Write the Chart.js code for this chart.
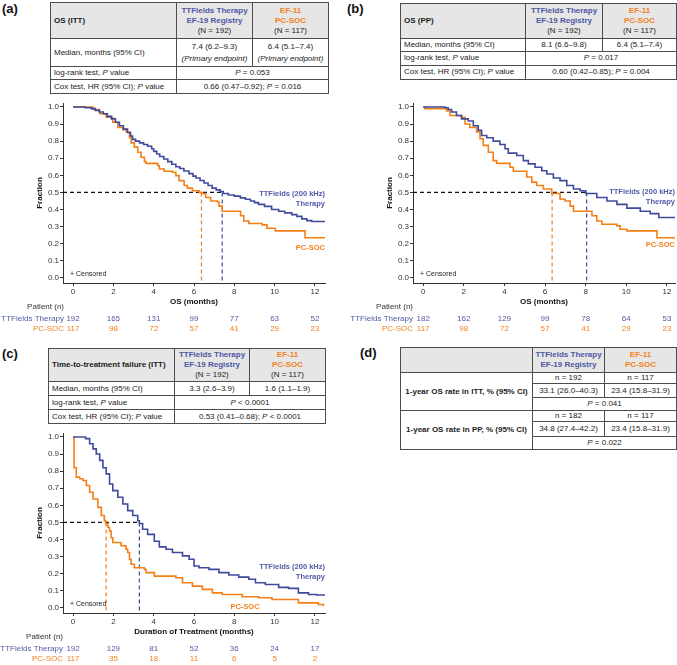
<!DOCTYPE html>
<html>
<head>
<meta charset="utf-8">
<script src="https://cdn.jsdelivr.net/npm/chart.js"></script>
<style>
body{margin:0;background:#fff;}
#root{position:relative;width:677px;height:665px;overflow:hidden;font-family:'Liberation Sans',Arial,sans-serif;color:#222;background:#fff;}
.pl{position:absolute;font-size:13px;font-weight:bold;color:#111;line-height:15px;}
table.t{position:absolute;border-collapse:collapse;table-layout:fixed;font-size:8px;line-height:10px;}
table.t td{border:1px solid #4d4d4d;padding:0 2px;text-align:center;vertical-align:middle;white-space:nowrap;overflow:hidden;}
table.t td.l{text-align:left;padding-left:3px;}
table.t tr.hd td{background:#e6e6e6;}
.bl{color:#4f56a2;font-weight:bold;}
.or{color:#f2811d;font-weight:bold;}
canvas{position:absolute;}
</style>
</head>
<body>
<div id="root">
  <div class="pl" style="left:2px;top:1px">(a)</div>
  <div class="pl" style="left:347px;top:1px">(b)</div>
  <div class="pl" style="left:2px;top:346px">(c)</div>
  <div class="pl" style="left:360px;top:345px">(d)</div>

  <table class="t" style="left:50px;top:2px;width:278px">
    <colgroup><col style="width:126px"><col style="width:76px"><col style="width:76px"></colgroup>
    <tr class="hd" style="height:36px"><td class="l"><b>OS (ITT)</b></td><td><span class="bl">TTFields Therapy<br>EF-19 Registry</span><br>(N = 192)</td><td><span class="or">EF-11<br>PC-SOC</span><br>(N = 117)</td></tr>
    <tr style="height:28px;line-height:11.5px"><td class="l">Median, months (95% CI)</td><td>7.4 (6.2–9.3)<br><i>(Primary endpoint)</i></td><td>6.4 (5.1–7.4)<br><i>(Primary endpoint)</i></td></tr>
    <tr style="height:13px"><td class="l">log-rank test, <i>P</i> value</td><td colspan="2"><i>P</i> = 0.053</td></tr>
    <tr style="height:14px"><td class="l">Cox test, HR (95% CI); <i>P</i> value</td><td colspan="2">0.66 (0.47–0.92); <i>P</i> = 0.016</td></tr>
  </table>

  <table class="t" style="left:400px;top:3px;width:276px">
    <colgroup><col style="width:125px"><col style="width:77px"><col style="width:74px"></colgroup>
    <tr class="hd" style="height:35px"><td class="l"><b>OS (PP)</b></td><td><span class="bl">TTFields Therapy<br>EF-19 Registry</span><br>(N = 192)</td><td><span class="or">EF-11<br>PC-SOC</span><br>(N = 117)</td></tr>
    <tr style="height:13px"><td class="l">Median, months (95% CI)</td><td>8.1 (6.6–9.8)</td><td>6.4 (5.1–7.4)</td></tr>
    <tr style="height:13.5px"><td class="l">log-rank test, <i>P</i> value</td><td colspan="2"><i>P</i> = 0.017</td></tr>
    <tr style="height:14px"><td class="l">Cox test, HR (95% CI); <i>P</i> value</td><td colspan="2">0.60 (0.42–0.85); <i>P</i> = 0.004</td></tr>
  </table>

  <table class="t" style="left:48px;top:348px;width:277px">
    <colgroup><col style="width:126px"><col style="width:75px"><col style="width:76px"></colgroup>
    <tr class="hd" style="height:33px"><td class="l"><b>Time-to-treatment failure (ITT)</b></td><td><span class="bl">TTFields Therapy<br>EF-19 Registry</span><br>(N = 192)</td><td><span class="or">EF-11<br>PC-SOC</span><br>(N = 117)</td></tr>
    <tr style="height:14px"><td class="l">Median, months (95% CI)</td><td>3.3 (2.6–3.9)</td><td>1.6 (1.1–1.9)</td></tr>
    <tr style="height:14px"><td class="l">log-rank test, <i>P</i> value</td><td colspan="2"><i>P</i> &lt; 0.0001</td></tr>
    <tr style="height:14px"><td class="l">Cox test, HR (95% CI); <i>P</i> value</td><td colspan="2">0.53 (0.41–0.68); <i>P</i> &lt; 0.0001</td></tr>
  </table>

  <table class="t" style="left:400px;top:347px;width:276px">
    <colgroup><col style="width:132px"><col style="width:72px"><col style="width:72px"></colgroup>
    <tr class="hd" style="height:25px"><td></td><td><span class="bl">TTFields Therapy<br>EF-19 Registry</span></td><td><span class="or">EF-11<br>PC-SOC</span></td></tr>
    <tr style="height:11px"><td rowspan="3"><b>1-year OS rate in ITT, % (95% CI)</b></td><td>n = 192</td><td>n = 117</td></tr>
    <tr style="height:14px"><td>33.1 (26.0–40.3)</td><td>23.4 (15.8–31.9)</td></tr>
    <tr style="height:13px"><td colspan="2"><i>P</i> = 0.041</td></tr>
    <tr style="height:10px"><td rowspan="3"><b>1-year OS rate in PP, % (95% CI)</b></td><td>n = 182</td><td>n = 117</td></tr>
    <tr style="height:15px"><td>34.8 (27.4–42.2)</td><td>23.4 (15.8–31.9)</td></tr>
    <tr style="height:13px"><td colspan="2"><i>P</i> = 0.022</td></tr>
  </table>

  <canvas id="ca" width="335" height="245" style="left:0px;top:95px"></canvas>
  <canvas id="cb" width="327" height="245" style="left:350px;top:95px"></canvas>
  <canvas id="cc" width="335" height="245" style="left:0px;top:425px"></canvas>
</div>
<script>
// ---------- data ----------
const xTicks = [0, 2, 4, 6, 8, 10, 12];
const yTicks = [0, 0.1, 0.2, 0.3, 0.4, 0.5, 0.6, 0.7, 0.8, 0.9, 1.0];
const riskTimes = [0, 2, 4, 6, 8, 10, 12];

// (a) OS (ITT)
const aTtfT = [0, 0.6, 0.9, 1.1, 1.3, 1.5, 1.7, 1.9, 2.1, 2.3, 2.5, 2.7, 2.85, 2.95, 3.1, 3.3, 3.5, 3.7, 3.9, 4.0, 4.15, 4.3, 4.5, 4.7, 4.9, 5.1, 5.3, 5.5, 5.75, 5.95, 6.1, 6.3, 6.5, 6.7, 6.9, 7.1, 7.3, 7.45, 7.7, 8.0, 8.3, 8.55, 8.8, 9.0, 9.2, 9.5, 9.85, 10.2, 10.5, 10.85, 11.1, 11.35, 11.6, 11.84, 12.5];
const aTtfS = [1, 0.995, 0.99, 0.98, 0.97, 0.96, 0.945, 0.93, 0.91, 0.89, 0.87, 0.85, 0.83, 0.81, 0.80, 0.79, 0.78, 0.77, 0.755, 0.74, 0.725, 0.71, 0.695, 0.68, 0.665, 0.65, 0.64, 0.625, 0.61, 0.595, 0.584, 0.57, 0.555, 0.54, 0.525, 0.515, 0.505, 0.494, 0.485, 0.478, 0.468, 0.46, 0.45, 0.44, 0.43, 0.418, 0.40, 0.39, 0.38, 0.37, 0.36, 0.345, 0.335, 0.33, 0.33];
const aPcT = [0, 0.99, 1.32, 1.64, 1.97, 2.22, 2.47, 2.63, 2.80, 2.88, 3.04, 3.21, 3.37, 3.54, 3.62, 4.19, 4.28, 4.52, 4.93, 5.10, 5.26, 5.51, 5.67, 5.92, 6.25, 6.37, 6.58, 6.83, 7.15, 7.24, 7.40, 8.31, 8.47, 8.72, 9.38, 9.62, 10.03, 11.51, 12.5];
const aPcS = [1, 0.985, 0.96, 0.94, 0.91, 0.88, 0.867, 0.853, 0.82, 0.79, 0.765, 0.735, 0.706, 0.68, 0.67, 0.657, 0.637, 0.624, 0.618, 0.598, 0.569, 0.54, 0.525, 0.51, 0.50, 0.494, 0.47, 0.45, 0.445, 0.42, 0.39, 0.363, 0.333, 0.318, 0.31, 0.29, 0.275, 0.235, 0.235];
const aMedians = [7.4, 6.37];
const aRiskTtf = [192, 165, 131, 99, 77, 63, 52];
const aRiskPc = [117, 98, 72, 57, 41, 29, 23];

// (b) OS (PP)
const bTtfT = [0, 1.07, 1.23, 1.40, 1.64, 1.89, 2.22, 2.47, 2.71, 2.88, 3.13, 3.45, 3.78, 4.03, 4.19, 4.61, 4.93, 5.18, 5.51, 5.84, 6.09, 6.41, 6.74, 7.07, 7.40, 7.73, 8.01, 8.55, 9.05, 9.54, 10.03, 10.69, 11.18, 11.6, 12.5];
const bTtfS = [1, 0.995, 0.985, 0.97, 0.95, 0.93, 0.918, 0.89, 0.863, 0.833, 0.82, 0.80, 0.78, 0.755, 0.73, 0.716, 0.686, 0.667, 0.647, 0.627, 0.608, 0.584, 0.569, 0.54, 0.52, 0.51, 0.494, 0.47, 0.45, 0.43, 0.408, 0.39, 0.376, 0.353, 0.353];
const bPcT = [0, 0.08, 1.15, 1.32, 1.89, 2.06, 2.30, 2.63, 2.80, 2.96, 3.21, 3.45, 3.62, 4.28, 4.44, 5.10, 5.35, 5.59, 5.92, 6.33, 6.74, 6.99, 7.24, 7.40, 8.31, 8.55, 8.80, 9.54, 9.70, 10.03, 11.51, 12.5];
const bPcS = [1, 0.99, 0.976, 0.95, 0.94, 0.90, 0.88, 0.853, 0.814, 0.775, 0.735, 0.686, 0.67, 0.647, 0.624, 0.59, 0.56, 0.54, 0.52, 0.494, 0.46, 0.45, 0.42, 0.39, 0.363, 0.333, 0.314, 0.304, 0.284, 0.275, 0.235, 0.235];
const bMedians = [8.05, 6.35];
const bRiskTtf = [182, 162, 129, 99, 78, 64, 53];
const bRiskPc = [117, 98, 72, 57, 41, 29, 23];

// (c) Time-to-treatment failure (ITT)
const cTtfT = [0, 0.62, 0.82, 0.99, 1.15, 1.32, 1.48, 1.64, 1.81, 1.97, 2.22, 2.47, 2.71, 2.96, 3.21, 3.29, 3.45, 3.70, 4.03, 4.28, 4.61, 4.93, 5.43, 5.76, 6.00, 6.25, 6.74, 7.24, 7.73, 8.22, 8.72, 9.05, 9.54, 10.2, 10.69, 11.18, 11.68, 12.09, 12.5];
const cTtfS = [1, 0.99, 0.96, 0.93, 0.90, 0.863, 0.82, 0.784, 0.725, 0.686, 0.647, 0.608, 0.569, 0.54, 0.51, 0.494, 0.46, 0.43, 0.39, 0.357, 0.343, 0.324, 0.304, 0.284, 0.245, 0.235, 0.225, 0.206, 0.192, 0.18, 0.167, 0.147, 0.137, 0.12, 0.114, 0.088, 0.078, 0.075, 0.075];
const cPcT = [0, 0.05, 0.16, 0.33, 0.49, 0.66, 0.82, 0.99, 1.23, 1.40, 1.55, 1.62, 1.73, 1.81, 1.89, 1.97, 2.38, 2.63, 2.71, 2.80, 2.88, 3.04, 3.54, 3.62, 4.03, 5.10, 5.43, 5.92, 6.41, 6.91, 7.40, 8.39, 9.21, 9.87, 11.18, 12.17, 12.42];
const cPcS = [1, 0.82, 0.765, 0.755, 0.745, 0.716, 0.676, 0.637, 0.588, 0.54, 0.51, 0.494, 0.47, 0.45, 0.41, 0.382, 0.363, 0.343, 0.324, 0.284, 0.255, 0.235, 0.225, 0.206, 0.186, 0.176, 0.147, 0.127, 0.108, 0.088, 0.078, 0.065, 0.059, 0.049, 0.029, 0.02, 0.01];
const cMedians = [3.29, 1.64];
const cRiskTtf = [192, 129, 81, 52, 36, 24, 17];
const cRiskPc = [117, 35, 18, 11, 6, 5, 2];

// ---------- drawing ----------
const FONT = "'Liberation Sans', Arial, sans-serif";
Chart.defaults.font.family = FONT;
const BLUE = '#3f4a9c', ORANGE = '#f57f17';
const BLUE_T = '#5259a5', ORANGE_T = '#f2811d';
const X_MIN = -0.5, Y_MIN = -0.03, Y_MAX = 1.023;

const pts = (T, S) => T.map((t, i) => ({x: t, y: S[i]}));

function textPlugin(d) {
  return {
    id: 'kmText',
    afterDraw(chart) {
      const {ctx, chartArea: ca, scales: {x, y}} = chart;
      ctx.save();
      ctx.textBaseline = 'middle';
      ctx.font = '7px ' + FONT; ctx.fillStyle = '#222'; ctx.textAlign = 'left';
      ctx.fillText('+ Censored', ca.left + 7, y.getPixelForValue(0.022));
      d.labels.forEach(l => {
        ctx.font = 'bold 7.5px ' + FONT; ctx.fillStyle = l.color; ctx.textAlign = l.align;
        const px = l.x == null ? ca.right : x.getPixelForValue(l.x);
        ctx.fillText(l.text, px, y.getPixelForValue(l.y));
      });
      ctx.font = '8px ' + FONT;
      const lx = ca.left + d.labelOff;
      ctx.fillStyle = '#333'; ctx.textAlign = 'right';
      ctx.fillText('Patient (n)', lx, ca.bottom + 24);
      d.rows.forEach((r, i) => {
        const yy = ca.bottom + 36 + i * 10;
        ctx.fillStyle = r.color; ctx.textAlign = 'right';
        ctx.fillText(r.label, lx, yy);
        ctx.textAlign = 'center';
        riskTimes.forEach((t, j) => ctx.fillText(String(r.values[j]), x.getPixelForValue(t), yy));
      });
      ctx.restore();
    }
  };
}

function km(id, d) {
  const ds = (data, color, extra) => Object.assign({data, borderColor: color, borderWidth: 1.6, pointRadius: 0, fill: false, tension: 0}, extra || {});
  return new Chart(document.getElementById(id), {
    type: 'line',
    data: {datasets: [
      ds(pts(d.ttfT, d.ttfS), BLUE, {stepped: true}),
      ds(pts(d.pcT, d.pcS), ORANGE, {stepped: true}),
      ds([{x: X_MIN, y: 0.5}, {x: d.med[0], y: 0.5}], '#111', {borderDash: [4, 3], borderWidth: 1.1}),
      ds([{x: d.med[1], y: 0.5}, {x: d.med[1], y: Y_MIN}], ORANGE, {borderDash: [4, 3], borderWidth: 1.2}),
      ds([{x: d.med[0], y: 0.5}, {x: d.med[0], y: Y_MIN}], BLUE, {borderDash: [4, 3], borderWidth: 1.2})
    ]},
    options: {
      responsive: false, animation: false, events: [],
      layout: {padding: {top: 8, bottom: 33, left: 0, right: d.padRight}},
      plugins: {legend: {display: false}, tooltip: {enabled: false}},
      scales: {
        x: {
          type: 'linear', min: X_MIN, max: d.xMax,
          afterBuildTicks: s => { s.ticks = xTicks.map(v => ({value: v})); },
          afterFit: s => { s.height = 24; },
          ticks: {font: {size: 8}, color: '#333', padding: 1, maxRotation: 0, autoSkip: false},
          grid: {drawOnChartArea: false, drawTicks: true, tickLength: 3, color: '#333'},
          border: {display: true, color: '#333', width: 1},
          title: {display: true, text: d.xTitle, font: {size: 8, weight: 'bold'}, color: '#111', padding: {top: 0, bottom: 0}}
        },
        y: {
          type: 'linear', min: Y_MIN, max: Y_MAX,
          afterBuildTicks: s => { s.ticks = yTicks.map(v => ({value: v})); },
          afterFit: s => { s.width = 63; },
          ticks: {font: {size: 8}, color: '#333', padding: 1, callback: v => Number(v).toFixed(1)},
          grid: {drawOnChartArea: false, drawTicks: true, tickLength: 3, color: '#333'},
          border: {display: true, color: '#333', width: 1},
          title: {display: true, text: 'Fraction', font: {size: 8, weight: 'bold'}, color: '#111', padding: {top: 35, bottom: 0}}
        }
      }
    },
    plugins: [textPlugin(d)]
  });
}

km('ca', {ttfT: aTtfT, ttfS: aTtfS, pcT: aPcT, pcS: aPcS, med: aMedians, xMax: 12.5, padRight: 10, xTitle: 'OS (months)', labelOff: 1,
  labels: [{text: 'TTFields (200 kHz)', color: BLUE_T, y: 0.49, align: 'right'}, {text: 'Therapy', color: BLUE_T, y: 0.433, align: 'right'}, {text: 'PC-SOC', color: ORANGE_T, y: 0.174, align: 'right'}],
  rows: [{label: 'TTFields Therapy', color: BLUE_T, values: aRiskTtf}, {label: 'PC-SOC', color: ORANGE_T, values: aRiskPc}]});

km('cb', {ttfT: bTtfT, ttfS: bTtfS, pcT: bPcT, pcS: bPcS, med: bMedians, xMax: 12.4, padRight: 2, xTitle: 'OS (months)', labelOff: 0,
  labels: [{text: 'TTFields (200 kHz)', color: BLUE_T, y: 0.50, align: 'right'}, {text: 'Therapy', color: BLUE_T, y: 0.446, align: 'right'}, {text: 'PC-SOC', color: ORANGE_T, y: 0.19, align: 'right'}],
  rows: [{label: 'TTFields Therapy', color: BLUE_T, values: bRiskTtf}, {label: 'PC-SOC', color: ORANGE_T, values: bRiskPc}]});

km('cc', {ttfT: cTtfT, ttfS: cTtfS, pcT: cPcT, pcS: cPcS, med: cMedians, xMax: 12.5, padRight: 10, xTitle: 'Duration of Treatment (months)', labelOff: 0,
  labels: [{text: 'TTFields (200 kHz)', color: BLUE_T, y: 0.237, align: 'right'}, {text: 'Therapy', color: BLUE_T, y: 0.18, align: 'right'}, {text: 'PC-SOC', color: ORANGE_T, x: 8.53, y: 0.005, align: 'center'}],
  rows: [{label: 'TTFields Therapy', color: BLUE_T, values: cRiskTtf}, {label: 'PC-SOC', color: ORANGE_T, values: cRiskPc}]});
</script>
</body>
</html>
